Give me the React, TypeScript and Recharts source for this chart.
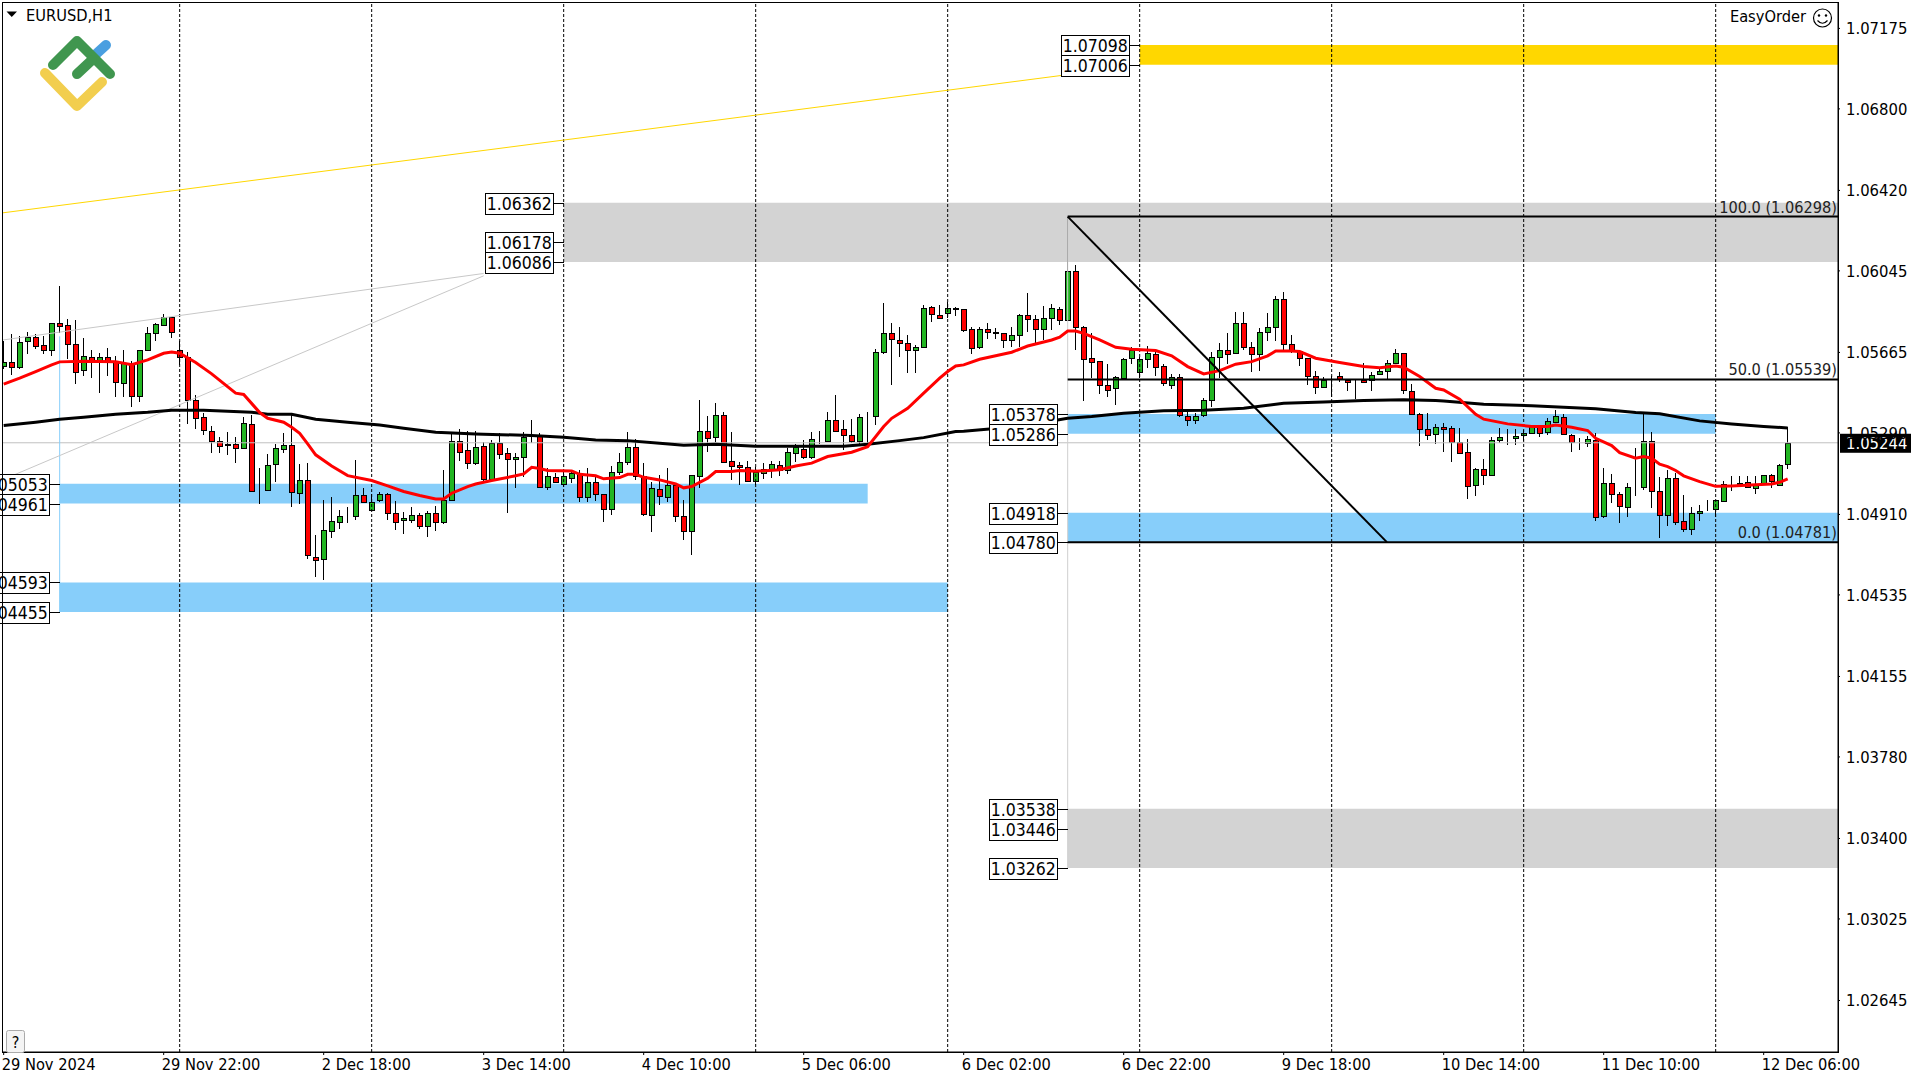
import { Bar, ComposedChart, Line, ReferenceArea, ReferenceDot, ReferenceLine, XAxis, YAxis } from "recharts";

const FONT = "'DejaVu Sans Condensed', 'DejaVu Sans', sans-serif";

// candle values in points (price x 100000), one entry per H1 bar
const opens = [
  105601,105622,105599,105716,105736,105699,105675,105801,105792,105703,105582,105646,105632,105643,105627,105521,105618,105464,105678,105754,
  105795,105829,105674,105646,105442,105363,105301,105254,105236,105236,105219,105330,105021,105023,105144,105217,105233,105009,105069,104714,
  104701,104835,104877,104899,104902,105000,104933,104975,105004,104916,104883,104886,104906,104858,104916,104874,104976,105251,105211,105149,
  105228,105077,105242,105195,105167,105180,105278,105276,105040,105083,105054,105082,105102,104993,105060,105004,104937,105110,105153,105223,
  105087,104909,105028,104989,105046,104902,104835,105091,105298,105273,105372,105158,105139,105129,105068,105105,105124,105139,105118,105198,
  105215,105180,105257,105254,105348,105307,105279,105251,105365,105368,105666,105754,105722,105708,105674,105689,105876,105841,105848,105870,
  105866,105773,105688,105773,105758,105754,105722,105745,105838,105820,105773,105824,105866,105814,106046,105782,105638,105624,105511,105498,
  105548,105638,105576,105633,105657,105601,105515,105549,105371,105349,105374,105442,105643,105674,105661,105801,105689,105657,105762,105782,
  105913,105703,105672,105638,105553,105506,105546,105553,105537,105533,105537,105535,105563,105577,105618,105661,105487,105377,105307,105284,
  105316,105312,105247,105200,105046,105121,105096,105256,105266,105265,105278,105288,105320,105292,105343,105366,105279,105248,105242,105257,
  104905,105056,105004,104947,105038,105037,105251,105018,104906,105079,104878,104841,104916,104927,104937,104973,105053,105056,105063,105032,
  105053,105093,105048,105144,
];
const highs = [
  105719,105751,105742,105761,105751,105742,105804,105975,105821,105817,105733,105677,105664,105686,105649,105677,105627,105677,105782,105801,
  105843,105832,105716,105666,105466,105385,105320,105270,105295,105270,105363,105372,105127,105192,105237,105288,105382,105146,105149,104815,
  104978,104993,104931,104945,105164,105032,105004,105014,105009,104972,104920,104944,104916,104925,104948,105118,105288,105307,105298,105298,
  105247,105257,105288,105219,105195,105295,105349,105288,105125,105105,105110,105115,105118,105125,105094,105006,105136,105198,105295,105260,
  105149,105060,105094,105127,105056,104976,105095,105444,105369,105430,105389,105295,105156,105161,105130,105152,105160,105161,105219,105239,
  105257,105292,105299,105388,105467,105351,105354,105377,105388,105680,105896,105803,105784,105747,105700,105885,105882,105887,105900,105879,
  105868,105782,105782,105801,105778,105755,105782,105845,105941,105840,105882,105890,105879,106298,106073,105786,105754,105626,105612,105553,
  105638,105692,105646,105695,105669,105610,105565,105565,105397,105382,105452,105669,105711,105754,105852,105852,105713,105778,105848,105930,
  105947,105745,105677,105640,105577,105549,105557,105576,105540,105535,105615,105576,105587,105630,105681,105664,105518,105382,105382,105332,
  105338,105320,105312,105260,105125,105169,105273,105312,105307,105307,105304,105327,105327,105358,105396,105377,105285,105268,105276,105288,
  105127,105099,105014,105056,105219,105382,105295,105083,105118,105102,105001,104947,104955,104978,104978,105065,105090,105090,105087,105087,
  105095,105099,105144,105316,
];
const lows = [
  105587,105560,105588,105658,105681,105658,105649,105754,105633,105518,105556,105546,105478,105553,105455,105459,105413,105436,105674,105719,
  105786,105734,105608,105332,105309,105278,105198,105198,105189,105152,105214,105014,104961,105021,105059,105198,104947,104961,104704,104619,
  104605,104801,104843,104871,104885,104969,104932,104970,104885,104838,104821,104868,104843,104805,104835,104864,104972,105161,105121,105139,
  105063,105070,105169,104919,105031,105083,105242,105038,105024,105062,105040,105056,104969,104969,104973,104875,104908,105094,105141,105071,
  104903,104826,104955,104969,104877,104793,104723,105032,105203,105248,105149,105071,105048,105066,105048,105076,105079,105090,105099,105156,
  105169,105170,105239,105250,105292,105211,105242,105234,105242,105327,105657,105511,105646,105570,105567,105685,105809,105820,105826,105835,
  105762,105658,105681,105727,105727,105686,105691,105689,105762,105708,105723,105770,105795,105810,105677,105439,105545,105469,105459,105422,
  105545,105612,105545,105594,105553,105509,105495,105366,105320,105332,105366,105413,105545,105612,105658,105674,105576,105580,105716,105716,
  105677,105664,105602,105514,105469,105501,105459,105525,105487,105450,105525,105487,105560,105543,105612,105472,105376,105231,105257,105239,
  105203,105156,105194,104984,104998,105045,105087,105242,105234,105234,105254,105285,105273,105278,105338,105279,105203,105211,105222,104880,
  104895,104965,104872,104900,104998,105024,104942,104802,104854,104861,104830,104812,104880,104924,104900,104970,105021,105037,105032,105004,
  105048,105031,105046,105124,
];
const closes = [
  105622,105596,105713,105739,105697,105675,105801,105790,105703,105576,105647,105632,105643,105627,105525,105618,105464,105675,105754,105796,
  105829,105759,105643,105441,105358,105302,105254,105231,105233,105219,105335,105017,105019,105139,105219,105233,105014,105069,104723,104700,
  104836,104878,104902,104898,105000,104970,104970,105004,104916,104877,104892,104906,104854,104916,104874,104976,105251,105203,105149,105223,
  105073,105242,105192,105167,105177,105273,105276,105040,105088,105063,105087,105102,104989,105060,105003,104937,105107,105153,105226,105090,
  104914,105032,104995,105046,104905,104835,105093,105298,105268,105372,105156,105136,105130,105068,105110,105124,105144,105118,105200,105222,
  105180,105260,105255,105349,105301,105278,105254,105363,105364,105666,105754,105727,105708,105677,105689,105871,105845,105824,105871,105868,
  105770,105685,105773,105759,105756,105722,105745,105838,105820,105773,105824,105871,105814,106043,105782,105633,105622,105512,105492,105549,
  105633,105677,105633,105661,105599,105521,105549,105374,105349,105371,105442,105643,105674,105660,105801,105689,105657,105759,105782,105913,
  105703,105674,105638,105553,105503,105535,105544,105543,105529,105531,105529,105562,105577,105618,105661,105489,105377,105307,105279,105316,
  105307,105247,105198,105041,105121,105096,105256,105270,105264,105275,105288,105320,105288,105344,105368,105284,105247,105246,105260,104900,
  105056,105004,104951,105037,105036,105251,105017,104906,105079,104877,104840,104916,104925,104925,104976,105054,105051,105054,105040,105051,
  105093,105065,105141,105244,
];

// moving averages, read at the listed bars only
const redBars = [0,2,4,6,7,10,14,16,18,20,21,22,24,26,29,30,32,33,35,36,37,38,39,41,43,46,48,50,52,54,55,56,58,59,61,64,65,66,67,68,71,72,74,75,77,78,79,80,82,84,85,86,88,89,91,92,94,97,99,101,103,106,108,110,111,113,115,117,118,119,120,122,125,126,128,131,132,133,134,135,137,139,141,144,146,148,150,152,154,156,158,159,161,162,164,167,170,172,174,175,177,179,180,182,184,185,188,191,193,194,196,198,199,201,202,204,205,206,207,208,209,210,212,214,216,219,221,222,223];
const redValues = [105517,105545,105576,105607,105621,105624,105621,105608,105630,105661,105667,105661,105618,105565,105475,105469,105385,105358,105340,105316,105288,105239,105188,105136,105091,105068,105043,105017,104998,104982,104982,105009,105040,105052,105068,105090,105099,105130,105124,105115,105113,105097,105090,105076,105082,105097,105097,105083,105071,105052,105034,105040,105079,105110,105110,105115,105111,105118,105136,105149,105180,105200,105226,105320,105358,105405,105475,105545,105576,105602,105607,105633,105658,105666,105695,105723,105736,105765,105765,105754,105723,105689,105680,105674,105649,105599,105565,105580,105610,105622,105649,105672,105672,105669,105638,105618,105599,105594,105602,105596,105553,105498,105490,105447,105377,105354,105332,105320,105320,105327,105316,105301,105265,105231,105198,105172,105180,105172,105144,105133,105115,105090,105063,105041,105043,105048,105052,105060,105076];
const blackBars = [0,4,7,10,14,18,21,25,28,31,33,36,39,43,47,50,54,59,60,66,70,74,78,82,85,89,94,100,105,108,112,115,119,120,127,133,136,140,145,150,155,160,165,170,175,179,180,185,191,195,199,204,207,212,216,220,223];
const blackValues = [105324,105340,105354,105363,105377,105386,105396,105396,105391,105386,105377,105377,105354,105340,105327,105312,105293,105285,105284,105278,105270,105257,105254,105242,105233,105237,105228,105228,105228,105237,105254,105268,105296,105298,105320,105358,105366,105382,105393,105396,105405,105428,105434,105441,105445,105441,105439,105424,105417,105410,105402,105385,105379,105346,105332,105320,105313];

const yTicks = [1.07175,1.068,1.0642,1.06045,1.05665,1.0529,1.0491,1.04535,1.04155,1.0378,1.034,1.03025,1.02645];
const xTicks = [0,20,40,60,80,100,120,140,160,180,200,220];
const xLabels = ["29 Nov 2024","29 Nov 22:00","2 Dec 18:00","3 Dec 14:00","4 Dec 10:00","5 Dec 06:00","6 Dec 02:00","6 Dec 22:00","9 Dec 18:00","10 Dec 14:00","11 Dec 10:00","12 Dec 06:00"];
const separators = [22,46,70,94,118,142,166,190,214];

const lastPrice = 1.05244;
const fibLevels = [
  { name: "100.0 (1.06298)", price: 1.06298 },
  { name: "50.0 (1.05539)", price: 1.05539 },
  { name: "0.0 (1.04781)", price: 1.04781 },
];

// price zones: [start bar, end bar, top, bottom, colour]
const END = 229.29;
const zones: [number, number, number, number, string][] = [
  [142, END, 1.07098, 1.07006, "#FFD700"],
  [70, END, 1.06362, 1.06086, "#D3D3D3"],
  [7, 108, 1.05053, 1.04961, "#87CEFA"],
  [7, 118, 1.04593, 1.04455, "#87CEFA"],
  [133, 214, 1.05378, 1.05286, "#87CEFA"],
  [133, END, 1.04918, 1.0478, "#87CEFA"],
  [133, END, 1.03538, 1.03262, "#D3D3D3"],
];
// price tags: [bar of the zone start, price]
const tags: [number, number][] = [
  [142, 1.07098], [142, 1.07006],
  [70, 1.06362], [70, 1.06178], [70, 1.06086],
  [7, 1.05053], [7, 1.04961], [7, 1.04593], [7, 1.04455],
  [133, 1.05378], [133, 1.05286], [133, 1.04918], [133, 1.0478],
  [133, 1.03538], [133, 1.03446], [133, 1.03262],
];

const rows = opens.map((open, k) => {
  const r = redBars.indexOf(k);
  const b = blackBars.indexOf(k);
  return {
    k,
    open: open / 1e5,
    high: highs[k] / 1e5,
    low: lows[k] / 1e5,
    close: closes[k] / 1e5,
    range: [lows[k] / 1e5, highs[k] / 1e5],
    red: r >= 0 ? redValues[r] / 1e5 : null,
    black: b >= 0 ? blackValues[b] / 1e5 : null,
  };
});

function Candle(props: any) {
  const { x, y, width, height, payload } = props;
  const h = Math.abs(height);
  const perPrice = payload.high > payload.low ? h / (payload.high - payload.low) : 0;
  const yOf = (p: number) => y + (payload.high - p) * perPrice;
  const mid = Math.round(x + width / 2 - 0.5) + 0.5;
  const top = Math.round(yOf(Math.max(payload.open, payload.close)));
  const bottom = Math.round(yOf(Math.min(payload.open, payload.close)));
  const fill = payload.close >= payload.open ? "#22B522" : "#FF0000";
  return (
    <g shapeRendering="crispEdges">
      <line x1={mid} x2={mid} y1={y} y2={y + h} stroke="#000" />
      <rect x={mid - 2.5} y={top + 0.5} width={5} height={Math.max(bottom - top, 0)} fill={fill} stroke="#000" />
    </g>
  );
}

function XTick({ x, y, payload }: any) {
  return (
    <text x={x - 2} y={y + 15} fontFamily={FONT} fontSize={16.3} fill="#000" textAnchor="start">
      {xLabels[xTicks.indexOf(payload.value)]}
    </text>
  );
}

function YTick({ x, y, payload }: any) {
  return (
    <text x={x} y={y + 6} fontFamily={FONT} fontSize={16.5} fill="#000">
      {payload.value.toFixed(5)}
    </text>
  );
}

function PriceTag({ cx, cy, text }: any) {
  const right = cx - 10;
  const mid = Math.round(cy) + 1;
  return (
    <g shapeRendering="crispEdges">
      <line x1={right} x2={cx} y1={Math.round(cy) + 0.5} y2={Math.round(cy) + 0.5} stroke="#000" />
      <rect x={right - 68.5} y={mid - 10.5} width={68} height={21} fill="#fff" stroke="#000" />
      <text x={right - 34.5} y={mid + 6} fontFamily={FONT} fontSize={17.5} fill="#000" textAnchor="middle" shapeRendering="auto">
        {text}
      </text>
    </g>
  );
}

function FibText({ cx, cy, text }: any) {
  return (
    <text x={cx - 1} y={cy - 4} fontFamily={FONT} fontSize={16.2} fill="#222" textAnchor="end">
      {text}
    </text>
  );
}

function LastPriceTag({ cx, cy }: any) {
  return (
    <g>
      <rect x={cx + 2} y={cy - 9} width={71} height={19} fill="#000" />
      <text x={cx + 8} y={cy + 6.5} fontFamily={FONT} fontSize={16.5} fill="#fff">
        {lastPrice.toFixed(5)}
      </text>
    </g>
  );
}

export default function App() {
  return (
    <div style={{ position: "absolute", left: 0, top: 0, width: 1920, height: 1080, background: "#fff", overflow: "hidden" }}>
      <ComposedChart width={1920} height={1080} data={rows} margin={{ top: 2, right: 0, bottom: 0, left: 2 }}>
        <XAxis
          dataKey="k"
          type="number"
          domain={[-0.21, END]}
          allowDataOverflow
          ticks={xTicks}
          interval={0}
          height={28}
          tickSize={3}
          tickMargin={0}
          tick={XTick}
          stroke="#000"
        />
        <YAxis
          orientation="right"
          type="number"
          domain={[1.02405, 1.07298]}
          allowDataOverflow
          ticks={yTicks}
          interval={0}
          width={82}
          tickSize={2}
          tickMargin={6}
          tick={YTick}
          stroke="#000"
        />

        {zones.map(([x1, x2, top, bottom, colour]) => (
          <ReferenceArea key={`${x1}-${top}`} x1={x1} x2={x2} y1={bottom} y2={top} fill={colour} fillOpacity={1} stroke="none" />
        ))}
        <ReferenceLine y={lastPrice} stroke="#C0C0C0" />
        <ReferenceLine segment={[{ x: 7, y: 1.0574 }, { x: 7, y: 1.04455 }]} stroke="#87CEFA" />
        <ReferenceLine segment={[{ x: 133, y: 1.06298 }, { x: 133, y: 1.03262 }]} stroke="#CFCFCF" />
        {separators.map((k) => (
          <ReferenceLine key={k} x={k} stroke="#000" strokeDasharray="3 2" />
        ))}
        <ReferenceLine segment={[{ x: -0.21, y: 1.06315 }, { x: 132.7, y: 1.06958 }]} stroke="#FFD700" />
        <ReferenceLine segment={[{ x: -0.1, y: 1.05723 }, { x: 60, y: 1.06033 }]} stroke="#C8C8C8" />
        <ReferenceLine segment={[{ x: 0.4, y: 1.0508 }, { x: 60, y: 1.06022 }]} stroke="#C8C8C8" />
        {tags.map(([k, price]) => (
          <ReferenceDot
            key={price}
            x={k}
            y={price}
            ifOverflow="hidden"
            shape={(p: any) => <PriceTag cx={p.cx} cy={p.cy} text={price.toFixed(5)} />}
          />
        ))}

        <Bar dataKey="range" barSize={5} shape={Candle} isAnimationActive={false} />
        <Line dataKey="black" stroke="#000" strokeWidth={3} dot={false} connectNulls isAnimationActive={false} />
        <Line dataKey="red" stroke="#FF0000" strokeWidth={3} dot={false} connectNulls isAnimationActive={false} />

        {fibLevels.map((f) => (
          <ReferenceLine key={f.price} segment={[{ x: 133, y: f.price }, { x: END, y: f.price }]} stroke="#000" strokeWidth={2} />
        ))}
        <ReferenceLine segment={[{ x: 133, y: 1.06298 }, { x: 172.9, y: 1.04781 }]} stroke="#000" strokeWidth={2} />
        {fibLevels.map((f) => (
          <ReferenceDot key={f.name} x={END} y={f.price} shape={(p: any) => <FibText cx={p.cx} cy={p.cy} text={f.name} />} />
        ))}
        <ReferenceDot x={END} y={lastPrice} shape={LastPriceTag} />
      </ComposedChart>

      <svg width={1920} height={1080} style={{ position: "absolute", left: 0, top: 0, pointerEvents: "none" }}>
        <rect x={2.5} y={2.5} width={1836} height={1050} fill="none" stroke="#000" />
        <polygon points="6.5,11.5 17,11.5 11.75,17" fill="#000" />
        <text x={26} y={21} fontFamily={FONT} fontSize={16.3} fill="#000">EURUSD,H1</text>
        <text x={1806} y={22} fontFamily={FONT} fontSize={16.3} fill="#000" textAnchor="end">EasyOrder</text>
        <circle cx={1822.5} cy={18} r={9} fill="none" stroke="#000" strokeWidth={1.2} />
        <circle cx={1819} cy={15.5} r={1.2} fill="#000" />
        <circle cx={1826} cy={15.5} r={1.2} fill="#000" />
        <path d="M1817.5 20.5 Q1822.5 26 1827.5 20.5" fill="none" stroke="#000" strokeWidth={1.2} />

        <g fill="none" strokeLinecap="round" strokeLinejoin="round" strokeWidth={10}>
          <path d="M95 55 L106 45" stroke="#4A9FE0" />
          <path d="M53 65 L77 41 L110 74" stroke="#40964F" />
          <path d="M77 74 L92 60" stroke="#40964F" />
          <path d="M45 73 L77 106 L102 82" stroke="#F2CE4E" />
        </g>

        <rect x={6.5} y={1030.5} width={18} height={22} rx={2} fill="#F4F4F4" stroke="#AAA" />
        <text x={15.5} y={1048} fontFamily={FONT} fontSize={16} fill="#000" textAnchor="middle">?</text>
      </svg>
    </div>
  );
}
